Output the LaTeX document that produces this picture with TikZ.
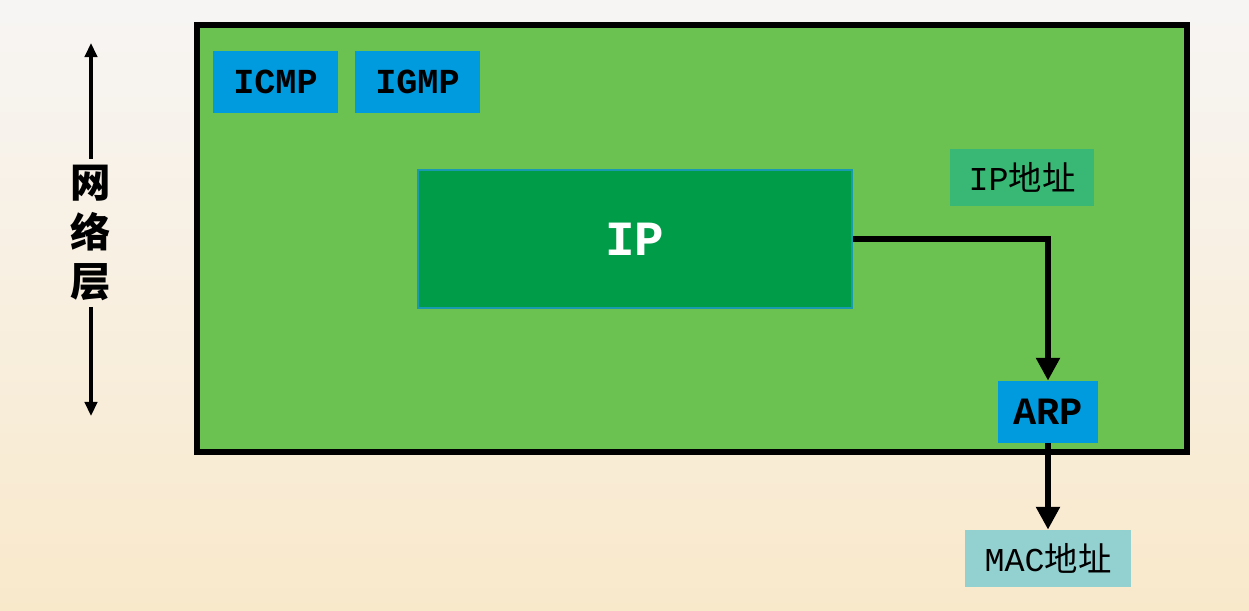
\documentclass[tikz,border=0pt]{standalone}
\usepackage{fontspec}
\setmainfont{Liberation Serif}
\newfontfamily\monofont{Liberation Mono}
\newfontfamily\cjk{Noto Sans CJK SC}
\usetikzlibrary{arrows.meta}

\definecolor{layergreen}{RGB}{108,194,80}
\definecolor{protoblue}{RGB}{0,154,222}
\definecolor{ipgreen}{RGB}{0,156,72}
\definecolor{ipedge}{RGB}{26,154,176}
\definecolor{addrgreen}{RGB}{56,183,117}
\definecolor{macblue}{RGB}{147,209,208}
\definecolor{paper}{RGB}{249,233,203}
\definecolor{papertop}{RGB}{247,245,244}

\begin{document}
\begin{tikzpicture}[x=0.02cm,y=-0.02cm,
    proto/.style={fill=protoblue,minimum width=2.5cm,minimum height=1.24cm,
      font=\monofont\bfseries\fontsize{20}{20}\selectfont},
    addr/.style={minimum height=1.14cm,font=\fontsize{19}{19}\selectfont},
    bigarrow/.style={line width=3.8pt,-{Triangle[length=13pt,width=13pt]}},
    sidearrow/.style={line width=2.2pt,-{Triangle[length=8pt,width=7pt]}},
    side/.style={font=\cjk\bfseries\fontsize{23}{23}\selectfont}]
  \shade[top color=papertop,bottom color=paper] (0,0) rectangle (1249,610);
  \useasboundingbox (0,0) rectangle (1249,610);

  \node[draw,line width=3pt,fill=layergreen,minimum width=19.8cm,minimum height=8.54cm]
    (layer) at (692,238.5) {};

  \node[proto] (ICMP) at (275.5,82) {ICMP};
  \node[proto] (IGMP) at (417.5,82) {IGMP};
  \node[draw=ipedge,line width=1.2pt,fill=ipgreen,text=white,minimum width=8.68cm,
    minimum height=2.76cm,font=\monofont\bfseries\fontsize{28}{28}\selectfont]
    (IP) at (635,239) {IP};
  \node[addr,fill=addrgreen,minimum width=2.88cm] (IPaddr) at (1022,177.5)
    {{\monofont IP}{\cjk 地址}};
  \node[proto,minimum width=2cm,font=\monofont\bfseries\fontsize{22}{22}\selectfont]
    (ARP) at (1048,412) {ARP};
  \node[addr,fill=macblue,minimum width=3.32cm] (MAC) at (1048,558.5)
    {{\monofont MAC}{\cjk 地址}};

  \draw[bigarrow] (IP.east) -| (ARP.north);
  \draw[bigarrow] (ARP.south) -- (MAC.north);

  % network layer label
  \node[side] (L1) at (91,183) {网};
  \node[side] (L2) at (91,232) {络};
  \node[side] (L3) at (91,282) {层};
  \coordinate (top) at (91,43);
  \coordinate (bottom) at (91,416);
  \draw[sidearrow] (L1.north) -- (top);
  \draw[sidearrow] (L3.south) -- (bottom);
\end{tikzpicture}
\end{document}
